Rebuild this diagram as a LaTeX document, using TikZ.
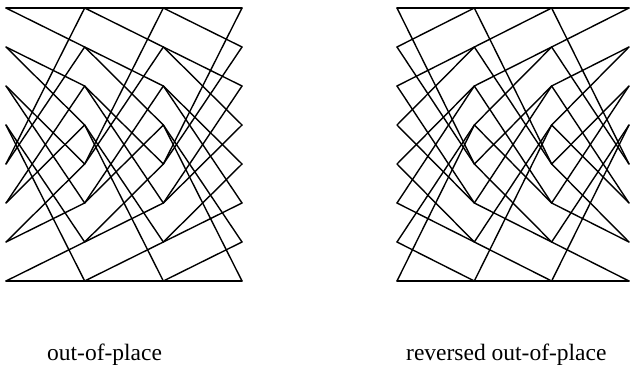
\documentclass[tikz,border=0pt]{standalone}
\usepackage{fontspec}
\setmainfont{Liberation Serif}
\begin{document}
\begin{tikzpicture}[x=1pt,y=-1pt,
  wire/.style={line width=1.4pt,line cap=round,line join=round,black},
  caption/.style={font=\fontsize{23.5}{26}\selectfont,anchor=base west,inner sep=0pt}]
\useasboundingbox (0,0) rectangle (630,370);
% grid points
\foreach \c in {0,...,3}{
  \foreach \r in {0,...,7}{
    \coordinate (L\c-\r) at ({6+78.67*\c},{8+39*\r});
    \coordinate (R\c-\r) at ({397+77.33*\c},{8+39*\r});
  }
}
% out-of-place (constant geometry) and its reverse
\foreach \c in {0,1,2}{
  \foreach \k in {0,...,3}{
    \pgfmathtruncatemacro{\d}{\c+1}
    \pgfmathtruncatemacro{\a}{2*\k}
    \pgfmathtruncatemacro{\b}{2*\k+1}
    \pgfmathtruncatemacro{\h}{\k+4}
    \draw[wire] (L\c-\k) -- (L\d-\a);
    \draw[wire] (L\c-\k) -- (L\d-\b);
    \draw[wire] (L\c-\h) -- (L\d-\a);
    \draw[wire] (L\c-\h) -- (L\d-\b);
    \draw[wire] (R\c-\a) -- (R\d-\k);
    \draw[wire] (R\c-\b) -- (R\d-\k);
    \draw[wire] (R\c-\a) -- (R\d-\h);
    \draw[wire] (R\c-\b) -- (R\d-\h);
  }
}
\node[caption] (capL) at (47,360) {out-of-place};
\node[caption] (capR) at (406,360) {reversed out-of-place};
\end{tikzpicture}
\end{document}
